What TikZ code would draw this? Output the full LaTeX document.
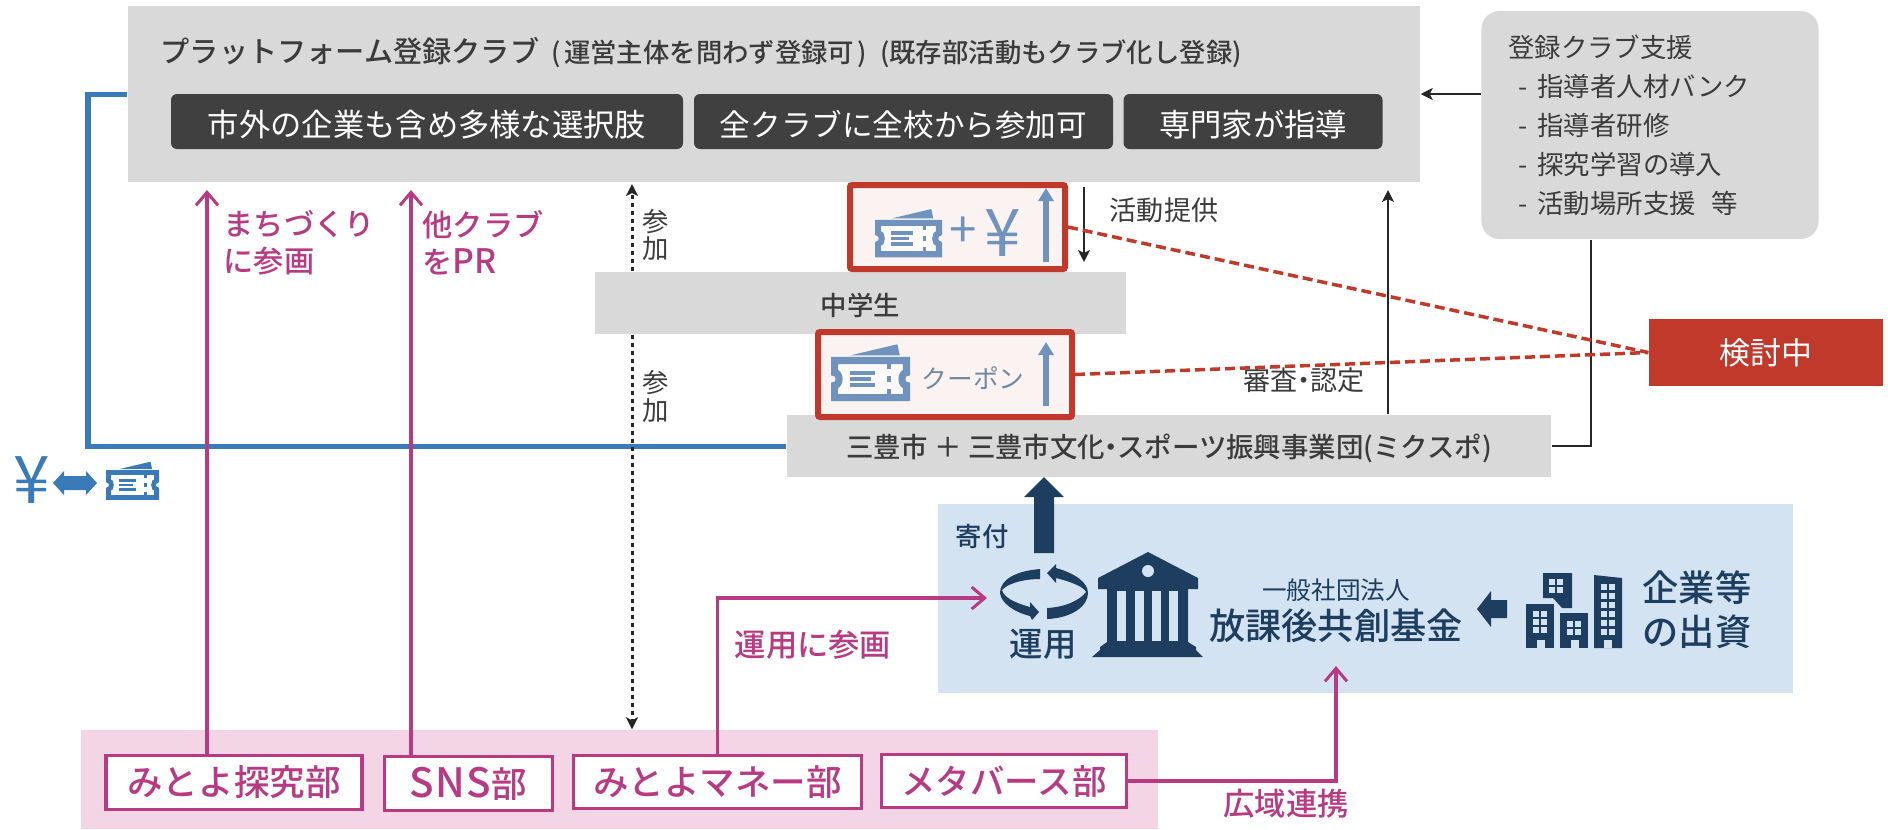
\documentclass[tikz,border=0pt]{standalone}
\usepackage{fontspec}
\setmainfont{Noto Sans CJK JP}
\newfontfamily\medfont{Noto Sans CJK JP Medium}
\usetikzlibrary{arrows.meta}
\newcommand{\pxfont}[1]{\fontsize{#1pt}{#1pt}\selectfont}
\newcommand{\thindot}{\kern-0.28em・\kern-0.28em}
\definecolor{boxgrey}{HTML}{D9D9D9}
\definecolor{pilldark}{HTML}{404040}
\definecolor{textdark}{HTML}{3B3B3B}
\definecolor{clubpink}{HTML}{B83A82}
\definecolor{barpink}{HTML}{F3D5E5}
\definecolor{fundblue}{HTML}{D3E3F1}
\definecolor{navy}{HTML}{1E3E5F}
\definecolor{alertred}{HTML}{C0392B}
\definecolor{lineblue}{HTML}{3A7AB8}
\definecolor{iconblue}{HTML}{6F93BC}
\definecolor{coupongrey}{HTML}{74889F}
\tikzset{
	boxsize/.style 2 args={minimum width=#1*0.01cm, minimum height=#2*0.01cm},
	greybox/.style={fill=boxgrey, inner sep=0pt, text=textdark, text height=8pt},
	pill/.style={fill=pilldark, rounded corners=0.06cm, inner sep=0pt, text=white, text height=9.2pt, font=\pxfont{8.9}},
	clubbox/.style={draw=clubpink, line width=0.035cm, fill=white, inner sep=0pt, text=clubpink, font=\medfont\pxfont{10.1}},
	ticketbox/.style={draw=alertred, line width=0.06cm, fill=alertred!6, rounded corners=0.02cm, inner sep=0pt},
	pinktext/.style={text=clubpink, font=\medfont\pxfont{8.9}, inner sep=0pt, align=left},
	smalltext/.style={text=textdark, font=\pxfont{7.7}, inner sep=0pt},
	navytext/.style={text=navy, inner sep=0pt, align=center},
	pinkarrow/.style={draw=clubpink, line width=0.033cm, -{Straight Barb[length=0.13cm, width=0.22cm, line width=0.03cm]}},
	blackarrow/.style={draw=black!85, line width=0.022cm, -{Stealth[length=0.12cm, width=0.12cm, inset=0.03cm]}},
	dotarrow/.style={draw=black!85, line width=0.03cm, dash pattern=on 0.04cm off 0.04cm, -{Stealth[length=0.12cm, width=0.12cm, inset=0.03cm, sep=0pt]}},
	reddash/.style={draw=alertred, line width=0.035cm, dash pattern=on 0.1cm off 0.05cm},
	iconarrow/.style={draw=iconblue, line width=0.06cm, -{Triangle[length=0.13cm, width=0.15cm]}},
}
\def\ticketicon[#1](#2)(#3){
	\begin{scope}[shift={(#2)}, x=#3*0.01cm, y=-#3*0.01cm]
		\draw[#1, line width=#3*0.0009cm, fill=white, fill opacity=0.6] (-.455,-.235) -- (.455,-.235) -- (.455,-.08)
			.. controls (.38,-.08) and (.38,.08) .. (.455,.08) -- (.455,.235) -- (-.455,.235) -- (-.455,.08)
			.. controls (-.38,.08) and (-.38,-.08) .. (-.455,-.08) -- cycle;
		\fill[#1] (-.25,-.3) -- (.34,-.44) -- (.37,-.3) -- cycle;
		\draw[#1, line width=#3*0.0005cm] (-.26,-.08) -- (.06,-.08);
		\draw[#1, line width=#3*0.0005cm] (-.26,0) -- (0,0);
		\draw[#1, line width=#3*0.0005cm] (-.26,.08) -- (.06,.08);
		\draw[#1, line width=#3*0.0005cm] (.24,-.2) -- (.24,-.13);
		\draw[#1, line width=#3*0.0005cm] (.24,-.04) -- (.24,.04);
		\draw[#1, line width=#3*0.0005cm] (.24,.13) -- (.24,.2);
	\end{scope}
}

\begin{document}
\begin{tikzpicture}[x=0.01cm, y=-0.01cm]
		\useasboundingbox (0,0) rectangle (1888,829);
		%%%%% BACK AREAS %%%%%
		\node[greybox, boxsize={1292}{176}] (club) at (774,94) {};
		\node[fill=barpink, inner sep=0pt, boxsize={1077}{99}] (clubbar) at (619.5,779.5) {};
		\node[fill=fundblue, inner sep=0pt, boxsize={855}{189}] (fund) at (1365.5,598.5) {};
		\node[greybox, boxsize={531}{62}, font=\medfont\pxfont{7.5}] (student) at (860.5,303) {中学生};
		\node[greybox, boxsize={764}{62}, font=\medfont\pxfont{7.8}] (city) at (1169,446) {三豊市 ＋ 三豊市文化\thindot スポーツ振興事業団(ミクスポ)};
		
		%%%%% CLUB BOX %%%%%
		\node[anchor=west, inner sep=0pt, text=textdark] (clubtitle) at (160,53) {{\medfont\pxfont{8.3}プラットフォーム登録クラブ}\hspace{0.12cm}{\medfont\pxfont{7.5}(\kern1pt 運営主体を問わず登録可\kern1pt)\hspace{0.13cm}(既存部活動もクラブ化し登録)}};
		\node[pill, boxsize={512}{55}] (choice) at (427,121.5) {市外の企業も含め多様な選択肢};
		\node[pill, boxsize={419}{55}, font=\pxfont{8.7}] (allschool) at (903.5,121.5) {全クラブに全校から参加可};
		\node[pill, boxsize={259}{55}] (expert) at (1253,121.5) {専門家が指導};
		
		\node[fill=boxgrey, rounded corners=0.18cm, inner ysep=0pt, inner xsep=0.27cm, boxsize={337}{228}, text width=2.83cm, align=left, text=textdark, font=\fontsize{7.5pt}{11.1pt}\selectfont] (support) at (1650,125) {登録クラブ支援\\\hspace{0.1cm}-\hspace{0.1cm}指導者人材バンク\\\hspace{0.1cm}-\hspace{0.1cm}指導者研修\\\hspace{0.1cm}-\hspace{0.1cm}探究学習の導入\\\hspace{0.1cm}-\hspace{0.1cm}活動場所支援\hspace{0.16cm}等};
		
		%%%%% CLUB NODES %%%%%
		\node[clubbox, boxsize={256}{54}] (tankyu) at (234,782.5) {みとよ探究部};
		\node[clubbox, boxsize={168}{54}] (sns) at (468.5,783.5) {{\pxfont{11.5}S\kern.4pt N\kern.4pt S}部};
		\node[clubbox, boxsize={288}{53}] (money) at (717.5,782) {みとよマネー部};
		\node[clubbox, boxsize={245}{53}, font=\medfont\pxfont{9.8}] (meta) at (1004,781) {メタバース部};
		
		\node[pinktext, anchor=west, font=\medfont\fontsize{8.6pt}{10.6pt}\selectfont] (tankyulabel) at (223,243) {まちづくり\\に参画};
		\node[pinktext, anchor=west, font=\medfont\fontsize{8.6pt}{10.6pt}\selectfont] (snslabel) at (422,243) {他クラブ\\を{\pxfont{9.6}PR}};
		\node[pinktext] (moneylabel) at (813,645) {運用に参画};
		\node[pinktext] (metalabel) at (1286,804) {広域連携};
		
		%%%%% CONNECTORS %%%%%
		\coordinate (blueturn) at (88,270);
		\draw[lineblue, line width=0.05cm] (club.west) -| (blueturn) |- (city.west);
		
		\coordinate (tankyutip) at (207,190);
		\coordinate (snstip) at (411,190);
		\coordinate (moneytip) at (987,598);
		\coordinate (moneyturn) at (717.5,650);
		\coordinate (metatip) at (1336,666);
		\draw[pinkarrow] (tankyu.north -| tankyutip) -- (tankyutip);
		\draw[pinkarrow] (sns.north -| snstip) -- (snstip);
		\draw[pinkarrow] (money.north -| moneyturn) |- (moneytip);
		\draw[pinkarrow] (meta.east) -| (metatip);
		
		\coordinate (dottip) at (632,184);
		\draw[dotarrow] (student.north -| dottip) -- (dottip);
		\draw[dotarrow] (student.south -| dottip) -- (clubbar.north -| dottip);
		\node[smalltext, font=\pxfont{7.5}] (join1a) at (656,222) {参};
		\node[smalltext, font=\pxfont{7.5}] (join1b) at (656,249) {加};
		\node[smalltext, font=\pxfont{7.5}] (join2a) at (656,383) {参};
		\node[smalltext, font=\pxfont{7.5}] (join2b) at (656,411) {加};
		
		\coordinate (offertop) at (1084,187);
		\coordinate (offerend) at (1084,262);
		\draw[blackarrow] (offertop) -- (offerend);
		\node[smalltext] (offerlabel) at (1164,210) {活動提供};
		
		\coordinate (checktip) at (1388,190);
		\draw[blackarrow] (city.north -| checktip) -- (checktip);
		\node[smalltext] (checklabel) at (1304,380) {審査\thindot 認定};
		
		\draw[blackarrow] (support.west |- club.east) -- (club.east);
		\coordinate (supportturn) at (1591,300);
		\draw[draw=black!85, line width=0.022cm] (support.south -| supportturn) |- (city.east);
		
		%%%%% TICKET BOXES %%%%%
		\node[ticketbox, boxsize={215}{84}] (ticketyen) at (957.5,227) {};
		\node[ticketbox, boxsize={254}{85}] (ticketonly) at (945,374.5) {};
		\node[fill=alertred, inner sep=0pt, boxsize={234}{67}, text=white, font=\pxfont{8.8}] (review) at (1766,352.5) {検討中};
		\draw[reddash] (ticketyen.east) -- (review.west);
		\draw[reddash] (ticketonly.east) -- (review.west);
		
		\ticketicon[iconblue](908.5,238.5)(67);
		\node[inner sep=0pt, text=iconblue, font=\pxfont{14}] (plus) at (963,232) {+};
		\node[inner sep=0pt, text=iconblue, font=\pxfont{18.7}] (yen) at (1003,233) {¥};
		\draw[iconarrow] (1046,262) -- (1046,188);
		
		\ticketicon[iconblue](870.5,379)(79);
		\node[inner sep=0pt, text=coupongrey, font=\pxfont{7.3}] (coupon) at (973,378) {クーポン};
		\draw[iconarrow] (1046,406) -- (1046,342);
		
		%%%%% LEFT EXCHANGE ICON %%%%%
		\node[inner sep=0pt, text=lineblue, font=\pxfont{18.7}] (yenleft) at (32,480) {¥};
		\fill[lineblue] (53,483) -- (64,471) -- (64,476) -- (86,476) -- (86,471) -- (97,483) -- (86,495) -- (86,490) -- (64,490) -- (64,495) -- cycle;
		\ticketicon[lineblue](132.5,485)(53);
		
		%%%%% FUND %%%%%
		\fill[navy] (1034,553) -- (1034,497) -- (1024,497) -- (1044,477) -- (1064,497) -- (1054,497) -- (1054,553) -- cycle;
		\node[navytext, font=\medfont\pxfont{7.5}] (donate) at (982,536) {寄付};
		
		\fill[navy] (1040,569) .. controls (1015,571) and (1000,580) .. (1000,593) .. controls (1001,603) and (1014,612) .. (1030,616) -- (1032,620) -- (1039,612) -- (1030,602) -- (1030,607) .. controls (1012,602) and (1004,597) .. (1002,590) .. controls (1006,585) and (1020,579) .. (1040,579) -- cycle;
		\fill[navy] (1047,619) .. controls (1072,618) and (1088,606) .. (1088,593) .. controls (1088,582) and (1074,573) .. (1056,568) -- (1056,564) -- (1047,573) -- (1056,583) -- (1056,578) .. controls (1072,582) and (1084,587) .. (1086,592) .. controls (1080,600) and (1066,607) .. (1047,608) -- cycle;
		\node[navytext, font=\medfont\pxfont{9.5}] (invest) at (1043,644) {運用};
		
		\fill[navy] (1148,552) -- (1198,578) -- (1198,589) -- (1188,589) -- (1188,642) -- (1196,647) -- (1196,650) -- (1203,657) -- (1092,657) -- (1100,650) -- (1100,647) -- (1107,642) -- (1107,589) -- (1098,589) -- (1098,578) -- cycle;
		\fill[fundblue] (1148,571) circle (6);
		\foreach \wx in {1117,1134.5,1152,1169}
			\fill[fundblue] (\wx,591) rectangle (\wx+9,641);
		
		\node[navytext, font=\pxfont{7}] (fundsmall) at (1336,590) {一般社団法人};
		\node[navytext, font=\medfont\pxfont{10.3}] (fundname) at (1336,626) {放課後共創基金};
		
		\fill[navy] (1477,609) -- (1491,591) -- (1491,600) -- (1507,600) -- (1507,618) -- (1491,618) -- (1491,627) -- cycle;
		
		\fill[navy] (1543,573) -- (1572,573) -- (1572,608) -- (1562,608) -- (1553,598) -- (1543,598) -- cycle;
		\fill[navy] (1526,604) rectangle (1554,648);
		\fill[navy] (1560,613) rectangle (1588,648);
		\fill[navy] (1594,575) -- (1622,578) -- (1622,648) -- (1594,648) -- cycle;
		\foreach \wx in {1549,1557} \foreach \wy in {579,587}
			\fill[fundblue] (\wx,\wy) rectangle (\wx+6,\wy+6);
		\foreach \wx in {1533,1541} \foreach \wy in {611,619,627}
			\fill[fundblue] (\wx,\wy) rectangle (\wx+6,\wy+6);
		\foreach \wx in {1567,1575} \foreach \wy in {621,629}
			\fill[fundblue] (\wx,\wy) rectangle (\wx+6,\wy+6);
		\foreach \wx in {1601,1609} \foreach \wy in {584,593,602,611,620,629}
			\fill[fundblue] (\wx,\wy) rectangle (\wx+6,\wy+6);
		\foreach \wx in {1537,1571,1604}
			\fill[fundblue] (\wx,640) rectangle (\wx+8,648);
		\node[navytext, font=\fontsize{10.3pt}{12.5pt}\selectfont\medfont] (investor) at (1697,610) {企業等\\の出資};
		%%%%% END %%%%%
\end{tikzpicture}
\end{document}
